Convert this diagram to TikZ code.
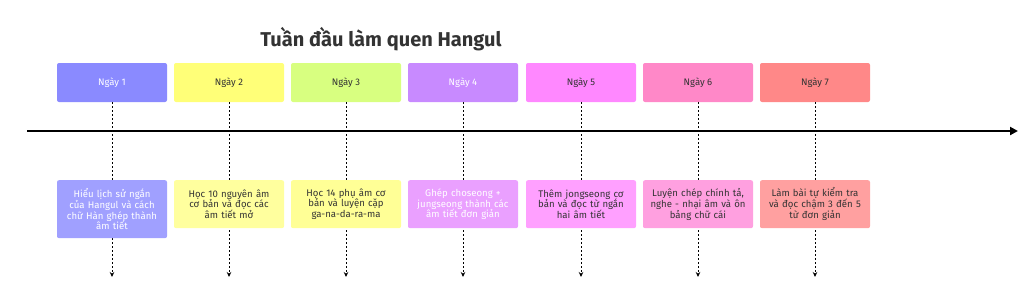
\documentclass[tikz,border=0pt]{standalone}
\usepackage{fontspec}
\setmainfont{Fira Sans}
\usetikzlibrary{arrows.meta}
\definecolor{dayA}{RGB}{138,138,255}
\definecolor{dayB}{RGB}{255,255,120}
\definecolor{dayC}{RGB}{216,255,128}
\definecolor{dayD}{RGB}{200,138,255}
\definecolor{dayE}{RGB}{255,136,255}
\definecolor{dayF}{RGB}{255,136,200}
\definecolor{dayG}{RGB}{255,136,136}
\definecolor{taskA}{RGB}{160,160,255}
\definecolor{taskB}{RGB}{255,255,158}
\definecolor{taskC}{RGB}{255,255,150}
\definecolor{taskD}{RGB}{234,160,255}
\definecolor{taskE}{RGB}{255,160,255}
\definecolor{taskF}{RGB}{255,160,224}
\definecolor{taskG}{RGB}{255,160,160}
\definecolor{ink}{RGB}{51,51,51}
\tikzset{
  daybox/.style={rounded corners=2pt,minimum width=110pt,minimum height=39pt,inner sep=0pt,font=\fontsize{9.5}{11}\selectfont},
  taskbox/.style={rounded corners=2pt,minimum width=110pt,minimum height=48pt,text width=104pt,align=center,anchor=north,inner sep=3pt,font=\fontsize{9.6}{10.8}\selectfont},
  dropline/.style={black,line width=0.9pt,dash pattern=on 2pt off 2pt,-{Stealth[length=5pt,width=4.5pt]}}
}

\begin{document}
\begin{tikzpicture}[x=1pt,y=-1pt]
  \useasboundingbox (0,0) rectangle (1024,300);
  \node[font=\fontsize{20}{22}\selectfont\bfseries,text=ink] (title) at (381,39) {Tuần đầu làm quen Hangul};

  % days along the week
  \foreach \i/\x/\c/\t in {1/112/dayA/white,2/229/dayB/ink,3/346/dayC/ink,4/463/dayD/white,5/581/dayE/ink,6/698/dayF/ink,7/815/dayG/ink}{
    \node[daybox,fill=\c,text=\t] (day\i) at (\x,82.5) {Ngày \i};
    \coordinate (end\i) at (\x,277);
    \draw[dropline] (day\i.south) -- (end\i);
  }

  % main axis
  \coordinate (axisL) at (27,131);
  \coordinate (axisR) at (1018,131);
  \draw[line width=2.4pt,-{Triangle[length=8pt,width=8pt]}] (axisL) -- (axisR);

  % tasks
  \node[taskbox,fill=taskA,text=white,minimum height=58pt] (task1) at (112,180) {Hiểu lịch sử ngắn\\ của Hangul và cách\\ chữ Hàn ghép thành\\ âm tiết};
  \node[taskbox,fill=taskB,text=ink] (task2) at (229,180) {Học 10 nguyên âm\\ cơ bản và đọc các\\ âm tiết mở};
  \node[taskbox,fill=taskC,text=ink] (task3) at (346,180) {Học 14 phụ âm cơ\\ bản và luyện cặp\\ ga-na-da-ra-ma};
  \node[taskbox,fill=taskD,text=white] (task4) at (463,180) {Ghép choseong +\\ jungseong thành các\\ âm tiết đơn giản};
  \node[taskbox,fill=taskE,text=ink] (task5) at (581,180) {Thêm jongseong cơ\\ bản và đọc từ ngắn\\ hai âm tiết};
  \node[taskbox,fill=taskF,text=ink] (task6) at (698,180) {Luyện chép chính tả,\\ nghe - nhại âm và ôn\\ bảng chữ cái};
  \node[taskbox,fill=taskG,text=ink] (task7) at (815,180) {Làm bài tự kiểm tra\\ và đọc chậm 3 đến 5\\ từ đơn giản};
\end{tikzpicture}
\end{document}
